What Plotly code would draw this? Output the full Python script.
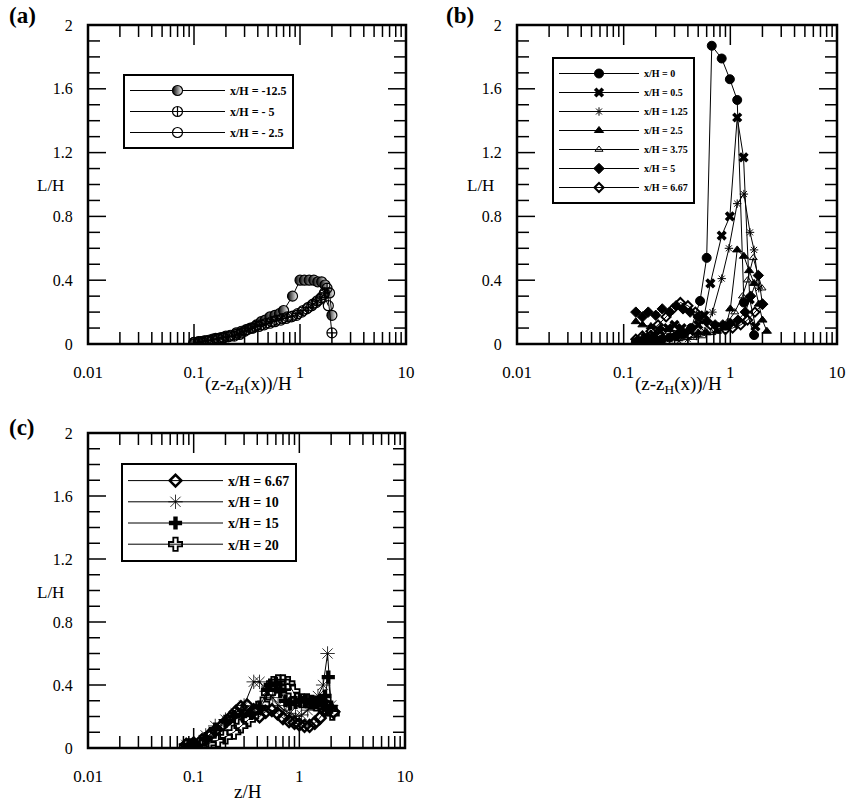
import plotly.graph_objects as go

W, H = 859, 805

# ---------------- data ----------------
# panel (a)
a_m125_x = [0.1,0.11,0.125,0.14,0.16,0.18,0.2,0.22,0.25,0.28,0.31,0.35,0.39,0.43,0.47,0.52,0.58,0.64,0.7,0.85,1.0,1.1,1.22,1.35,1.47,1.6,1.72,1.9,2.0]
a_m125_y = [0.01,0.015,0.02,0.025,0.035,0.04,0.05,0.055,0.07,0.08,0.09,0.1,0.12,0.14,0.15,0.17,0.18,0.19,0.21,0.3,0.4,0.4,0.4,0.4,0.39,0.39,0.37,0.32,0.18]
a_m5_x = [0.1,0.11,0.12,0.135,0.15,0.17,0.19,0.21,0.24,0.27,0.3,0.34,0.38,0.43,0.48,0.54,0.6,0.68,0.76,0.85,0.95,1.07,1.2,1.32,1.45,1.58,1.7,1.8,2.0]
a_m5_y = [0.0,0.01,0.015,0.02,0.025,0.03,0.04,0.045,0.05,0.06,0.08,0.1,0.11,0.12,0.13,0.14,0.15,0.16,0.17,0.175,0.19,0.21,0.23,0.25,0.27,0.29,0.32,0.35,0.07]
a_m25_x = [0.1,0.115,0.13,0.15,0.17,0.19,0.22,0.25,0.28,0.32,0.36,0.41,0.46,0.52,0.58,0.66,0.74,0.83,0.93,1.04,1.16,1.29,1.42,1.55,1.68,1.85]
a_m25_y = [0.01,0.015,0.02,0.03,0.035,0.04,0.05,0.06,0.07,0.09,0.1,0.11,0.12,0.13,0.14,0.15,0.16,0.17,0.18,0.2,0.22,0.24,0.26,0.28,0.31,0.24]

# panel (b)
b0_x = [0.13,0.15,0.17,0.2,0.23,0.27,0.31,0.36,0.43,0.52,0.6,0.67,0.83,0.99,1.16,1.34,1.67]
b0_y = [0.01,0.015,0.02,0.025,0.03,0.04,0.05,0.06,0.1,0.27,0.54,1.87,1.79,1.66,1.53,0.26,0.056]
b05_x = [0.14,0.16,0.19,0.22,0.26,0.3,0.35,0.42,0.5,0.57,0.65,0.83,0.99,1.16,1.33,1.52,1.72]
b05_y = [0.02,0.04,0.06,0.08,0.1,0.12,0.1,0.08,0.12,0.18,0.38,0.68,0.8,1.42,1.17,0.28,0.11]
b125_x = [0.15,0.18,0.22,0.27,0.33,0.4,0.48,0.57,0.68,0.83,0.97,1.16,1.34,1.53,1.67,1.85]
b125_y = [0.01,0.02,0.03,0.03,0.02,0.03,0.05,0.08,0.2,0.41,0.6,0.88,0.94,0.7,0.59,0.35]
b25_x = [0.13,0.15,0.18,0.22,0.27,0.33,0.4,0.5,0.6,0.75,0.9,1.0,1.16,1.34,1.5,1.67,1.85,2.0,2.2]
b25_y = [0.14,0.12,0.11,0.1,0.09,0.08,0.08,0.07,0.07,0.08,0.1,0.22,0.59,0.55,0.46,0.38,0.25,0.15,0.08]
b375_x = [0.13,0.16,0.2,0.25,0.3,0.37,0.45,0.55,0.67,0.8,0.95,1.1,1.3,1.45,1.64,1.98]
b375_y = [0.02,0.03,0.04,0.05,0.05,0.04,0.04,0.05,0.07,0.1,0.14,0.2,0.3,0.4,0.54,0.35]
b5_x = [0.13,0.15,0.17,0.2,0.23,0.27,0.31,0.36,0.42,0.5,0.6,0.72,0.85,1.0,1.18,1.38,1.55,1.83,2.0]
b5_y = [0.2,0.17,0.2,0.18,0.22,0.2,0.24,0.22,0.2,0.17,0.14,0.12,0.12,0.13,0.15,0.2,0.3,0.43,0.25]
b667_x = [0.13,0.15,0.18,0.21,0.25,0.29,0.34,0.4,0.47,0.55,0.65,0.77,0.9,1.05,1.25,1.45,1.7,2.0]
b667_y = [0.03,0.05,0.08,0.12,0.17,0.22,0.26,0.24,0.2,0.16,0.12,0.1,0.09,0.1,0.12,0.15,0.2,0.25]

# panel (c)
c667_x = [0.085,0.1,0.12,0.14,0.16,0.19,0.22,0.25,0.28,0.32,0.37,0.42,0.48,0.55,0.62,0.7,0.8,0.9,1.0,1.12,1.25,1.4,1.56,1.75,1.9,2.1]
c667_y = [0.02,0.03,0.05,0.08,0.11,0.15,0.19,0.23,0.26,0.27,0.24,0.2,0.23,0.24,0.22,0.19,0.17,0.16,0.15,0.14,0.14,0.16,0.19,0.24,0.26,0.23]
c10_x = [0.085,0.1,0.13,0.16,0.2,0.25,0.3,0.37,0.42,0.49,0.56,0.63,0.72,0.81,0.92,1.05,1.2,1.35,1.5,1.68,1.85,2.0]
c10_y = [0.02,0.03,0.08,0.14,0.18,0.22,0.27,0.42,0.42,0.36,0.32,0.27,0.24,0.22,0.2,0.21,0.24,0.28,0.33,0.4,0.6,0.27]
c15_x = [0.09,0.1,0.13,0.16,0.2,0.24,0.29,0.35,0.42,0.5,0.53,0.6,0.66,0.74,0.82,0.92,1.02,1.15,1.3,1.45,1.6,1.75,1.88,2.0]
c15_y = [0.02,0.02,0.06,0.12,0.17,0.2,0.21,0.22,0.26,0.37,0.4,0.41,0.36,0.3,0.28,0.29,0.3,0.3,0.29,0.29,0.3,0.33,0.45,0.26]
c20_x = [0.085,0.1,0.12,0.14,0.17,0.2,0.24,0.28,0.33,0.39,0.45,0.51,0.57,0.63,0.7,0.78,0.87,0.95,1.05,1.18,1.3,1.45,1.6,1.75,1.9,2.05]
c20_y = [0.01,0.01,0.02,0.03,0.05,0.07,0.1,0.14,0.18,0.23,0.28,0.35,0.41,0.42,0.42,0.41,0.36,0.31,0.3,0.3,0.29,0.28,0.27,0.26,0.25,0.22]

x_tickvals = [0.01, 0.1, 1, 10]
x_ticktext = ["0.01", "0.1", "1", "10"]
y_tickvals = [0, 0.4, 0.8, 1.2, 1.6, 2]
y_ticktext = ["0", "0.4", "0.8", "1.2", "1.6", "2"]

labels_a = ["x/H = -12.5", "x/H = - 5", "x/H = - 2.5"]
labels_b = ["x/H = 0", "x/H = 0.5", "x/H = 1.25", "x/H = 2.5", "x/H = 3.75", "x/H = 5", "x/H = 6.67"]
labels_c = ["x/H = 6.67", "x/H = 10", "x/H = 15", "x/H = 20"]

# minor tick positions (2..9 within each decade; 0.1 steps on L/H)
x_minor = [m * d for d in (0.01, 0.1, 1) for m in range(2, 10)]
y_minor = [i / 10 for i in range(1, 20) if i % 4 != 0]

SERIF = "Liberation Serif"

fig = go.Figure()

def add(x, y, name, xa, ya, leg, symbol, size, fill="black", lc="black", lw=1.0, gradient=None):
    marker = dict(symbol=symbol, size=size, color=fill, line=dict(color=lc, width=lw))
    if gradient:
        marker["gradient"] = gradient
    fig.add_trace(go.Scatter(
        x=x, y=y, mode="lines+markers", name="<b>%s</b>" % name,
        xaxis=xa, yaxis=ya, legend=leg, legendgroup=leg + name,
        line=dict(color="black", width=1),
        marker=marker,
    ))

# (a)
add(a_m125_x, a_m125_y, labels_a[0], "x", "y", "legend", "circle", 10, fill="black", lw=1.2,
    gradient=dict(type="horizontal", color="white"))
add(a_m5_x, a_m5_y, labels_a[1], "x", "y", "legend", "circle-cross-open", 10, lw=1.2)
add(a_m25_x, a_m25_y, labels_a[2], "x", "y", "legend", "circle-open", 10, lw=1.2)

# (b)
add(b0_x, b0_y, labels_b[0], "x2", "y2", "legend2", "circle", 9)
add(b05_x, b05_y, labels_b[1], "x2", "y2", "legend2", "x", 9, lw=0)
add(b125_x, b125_y, labels_b[2], "x2", "y2", "legend2", "asterisk-open", 7, lc="#777777", lw=1)
add(b25_x, b25_y, labels_b[3], "x2", "y2", "legend2", "triangle-up", 8)
add(b375_x, b375_y, labels_b[4], "x2", "y2", "legend2", "triangle-up-open", 7, lw=1)
add(b5_x, b5_y, labels_b[5], "x2", "y2", "legend2", "diamond", 8)
add(b667_x, b667_y, labels_b[6], "x2", "y2", "legend2", "diamond-open", 7, lw=2)

# (c)
add(c667_x, c667_y, labels_c[0], "x3", "y3", "legend3", "diamond-open", 9, lw=2.5)
add(c10_x, c10_y, labels_c[1], "x3", "y3", "legend3", "asterisk-open", 12, lc="#444444", lw=0.8)
add(c15_x, c15_y, labels_c[2], "x3", "y3", "legend3", "cross", 11, lw=0)
add(c20_x, c20_y, labels_c[3], "x3", "y3", "legend3", "cross-open", 11, lc="#333333", lw=1.8)

def px_x(p):
    return p / W

def px_y(p):
    return 1 - p / H

HIDDEN = "rgba(0,0,0,0)"

def xaxis(dom, anchor):
    # invisible outside ticks only space the labels away from the frame
    return dict(
        type="log", range=[-2, 1], domain=dom, anchor=anchor,
        showline=False, ticks="outside", ticklen=13, tickcolor=HIDDEN,
        tickmode="array", tickvals=x_tickvals, ticktext=x_ticktext,
        showgrid=False, zeroline=False,
        tickfont=dict(family=SERIF, size=17, color="black"),
    )

def yaxis(dom, anchor):
    return dict(
        range=[0, 2], domain=dom, anchor=anchor,
        showline=False, ticks="outside", ticklen=11, tickcolor=HIDDEN,
        tickmode="array", tickvals=y_tickvals, ticktext=y_ticktext,
        showgrid=False, zeroline=False,
        tickfont=dict(family=SERIF, size=16, color="black"),
    )

panels = [
    ("x", "y", [88, 406], [25, 344]),
    ("x2", "y2", [517, 837], [25, 344]),
    ("x3", "y3", [88, 405], [433, 748]),
]

shapes = []
TK = dict(color="black", width=1.5)
for xa, ya, (l, r), (t, b) in panels:
    pw, ph = r - l, b - t
    xd, yd = xa + " domain", ya + " domain"
    # x ticks (bottom and top), lengths in px converted to domain fractions
    for vals, ln in ((x_tickvals[1:-1], 20), (x_minor, 12)):
        f = ln / ph
        for v in vals:
            shapes.append(dict(type="line", xref=xa, yref=yd, x0=v, x1=v, y0=0, y1=f, line=TK, layer="above"))
            shapes.append(dict(type="line", xref=xa, yref=yd, x0=v, x1=v, y0=1, y1=1 - f, line=TK, layer="above"))
    # y ticks (left and right)
    for vals, ln in ((y_tickvals[1:-1], 18), (y_minor, 12)):
        f = ln / pw
        for v in vals:
            shapes.append(dict(type="line", xref=xd, yref=ya, x0=0, x1=f, y0=v, y1=v, line=TK, layer="above"))
            shapes.append(dict(type="line", xref=xd, yref=ya, x0=1, x1=1 - f, y0=v, y1=v, line=TK, layer="above"))
    # frame
    shapes.append(dict(type="rect", xref=xd, yref=yd, x0=0, x1=1, y0=0, y1=1,
                       line=dict(color="black", width=2.5), layer="above"))

top_dom = [px_y(344), px_y(25)]
bot_dom = [px_y(748), px_y(433)]

legend_common = dict(
    bgcolor="white", bordercolor="black", borderwidth=2,
    xanchor="left", yanchor="top",
)

fig.update_layout(
    width=W, height=H,
    margin=dict(l=0, r=0, t=0, b=0, autoexpand=False),
    paper_bgcolor="white", plot_bgcolor="white",
    xaxis=xaxis([px_x(88), px_x(406)], "y"),
    yaxis=yaxis(top_dom, "x"),
    xaxis2=xaxis([px_x(517), px_x(837)], "y2"),
    yaxis2=yaxis(top_dom, "x2"),
    xaxis3=xaxis([px_x(88), px_x(405)], "y3"),
    yaxis3=yaxis(bot_dom, "x3"),
    shapes=shapes,
    legend=dict(x=px_x(123), y=px_y(74), font=dict(family=SERIF, size=12, color="black"),
                itemwidth=95, tracegroupgap=2, **legend_common),
    legend2=dict(x=px_x(552), y=px_y(57), font=dict(family=SERIF, size=10, color="black"),
                 itemwidth=80, tracegroupgap=0, **legend_common),
    legend3=dict(x=px_x(121), y=px_y(463), font=dict(family=SERIF, size=14, color="black"),
                 itemwidth=95, tracegroupgap=0, **legend_common),
    showlegend=True,
)

ann = []
def text(x, y, t, size, bold=False):
    ann.append(dict(x=px_x(x), y=px_y(y), xref="paper", yref="paper", text=("<b>%s</b>" % t) if bold else t,
                    showarrow=False, xanchor="center", yanchor="middle",
                    font=dict(family=SERIF, size=size, color="black")))

text(22, 16, "(a)", 23, bold=True)
text(460, 16, "(b)", 23, bold=True)
text(22, 427, "(c)", 23, bold=True)
text(50, 185, "L/H", 17)
text(480, 185, "L/H", 17)
text(50, 592, "L/H", 17)
text(248, 385, "(z-z<sub>H</sub>(x))/H", 19)
text(678, 385, "(z-z<sub>H</sub>(x))/H", 19)
text(248, 791, "z/H", 19)
fig.update_layout(annotations=ann)

fig.write_html("out.html")
